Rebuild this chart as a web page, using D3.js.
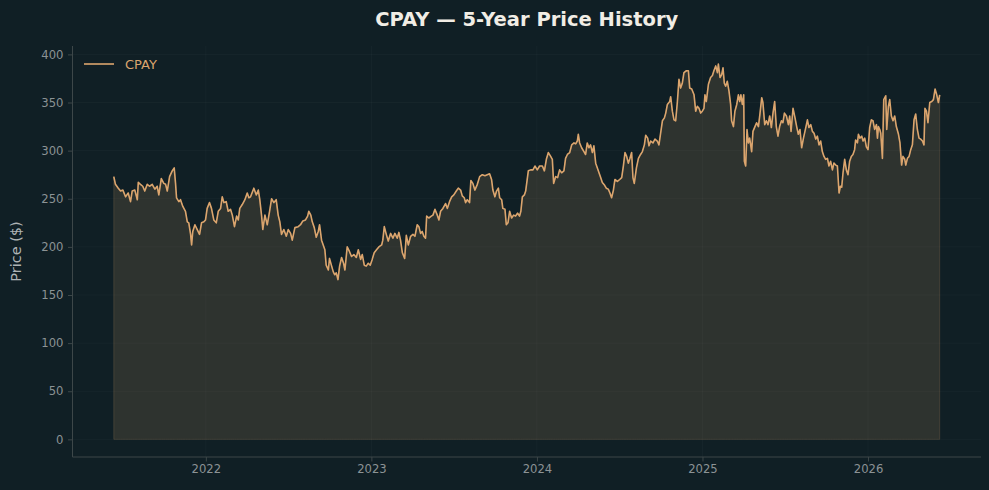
<!DOCTYPE html>
<html>
<head>
<meta charset="utf-8">
<script src="https://cdn.jsdelivr.net/npm/d3@7"></script>
<style>
  html, body { margin: 0; padding: 0; background: #101f25; }
  svg { display: block; }
</style>
</head>
<body>
<div id="chart"></div>
<script>
const title = "CPAY \u2014 5-Year Price History";
const seriesName = "CPAY";
const yLabel = "Price ($)";
const yTicks = [0, 50, 100, 150, 200, 250, 300, 350, 400];
const xTicks = [2022, 2023, 2024, 2025, 2026];

// time in decimal years
const years = [
2021.444,2021.454,2021.471,2021.485,2021.499,2021.515,2021.531,2021.545,2021.555,2021.571,
2021.586,2021.592,2021.605,2021.619,2021.631,2021.646,2021.660,2021.676,2021.692,2021.706,
2021.716,2021.731,2021.746,2021.757,2021.767,2021.781,2021.797,2021.809,2021.817,2021.823,
2021.837,2021.847,2021.861,2021.877,2021.888,2021.897,2021.908,2021.914,2021.921,2021.934,
2021.948,2021.962,2021.974,2021.988,2021.998,2022.008,2022.022,2022.034,2022.048,2022.063,
2022.075,2022.089,2022.099,2022.109,2022.123,2022.135,2022.149,2022.160,2022.173,2022.186,
2022.196,2022.205,2022.220,2022.236,2022.250,2022.260,2022.270,2022.290,2022.305,2022.317,
2022.326,2022.337,2022.344,2022.357,2022.371,2022.385,2022.397,2022.411,2022.425,2022.437,
2022.447,2022.457,2022.471,2022.486,2022.498,2022.512,2022.522,2022.538,2022.558,2022.572,
2022.586,2022.602,2022.615,2022.622,2022.634,2022.643,2022.655,2022.667,2022.679,2022.687,
2022.699,2022.709,2022.719,2022.727,2022.740,2022.747,2022.760,2022.770,2022.779,2022.788,
2022.798,2022.808,2022.820,2022.832,2022.840,2022.854,2022.868,2022.880,2022.894,2022.909,
2022.921,2022.935,2022.945,2022.957,2022.969,2022.981,2022.993,2023.005,2023.017,2023.031,
2023.045,2023.062,2023.069,2023.078,2023.090,2023.102,2023.116,2023.130,2023.142,2023.156,
2023.166,2023.176,2023.187,2023.201,2023.211,2023.223,2023.237,2023.251,2023.263,2023.277,
2023.287,2023.297,2023.307,2023.317,2023.327,2023.334,2023.347,2023.362,2023.372,2023.384,
2023.398,2023.408,2023.418,2023.432,2023.448,2023.459,2023.472,2023.485,2023.498,2023.513,
2023.525,2023.539,2023.549,2023.561,2023.569,2023.579,2023.593,2023.601,2023.613,2023.625,
2023.640,2023.654,2023.670,2023.686,2023.700,2023.714,2023.726,2023.734,2023.746,2023.756,
2023.767,2023.775,2023.787,2023.794,2023.807,2023.815,2023.825,2023.835,2023.847,2023.859,
2023.871,2023.883,2023.895,2023.903,2023.912,2023.924,2023.932,2023.948,2023.962,2023.976,
2023.988,2024.002,2024.016,2024.033,2024.045,2024.057,2024.069,2024.083,2024.093,2024.101,
2024.113,2024.125,2024.137,2024.149,2024.163,2024.173,2024.184,2024.198,2024.210,2024.224,
2024.234,2024.244,2024.250,2024.258,2024.270,2024.284,2024.294,2024.304,2024.314,2024.324,
2024.335,2024.344,2024.355,2024.365,2024.375,2024.385,2024.395,2024.409,2024.419,2024.431,
2024.441,2024.451,2024.462,2024.471,2024.486,2024.500,2024.512,2024.522,2024.532,2024.542,
2024.552,2024.562,2024.572,2024.580,2024.588,2024.601,2024.613,2024.626,2024.637,2024.649,
2024.657,2024.669,2024.677,2024.687,2024.701,2024.713,2024.727,2024.737,2024.747,2024.758,
2024.770,2024.778,2024.788,2024.802,2024.808,2024.818,2024.828,2024.838,2024.848,2024.858,
2024.868,2024.878,2024.888,2024.903,2024.915,2024.923,2024.935,2024.949,2024.959,2024.969,
2024.979,2024.989,2024.999,2025.009,2025.015,2025.023,2025.036,2025.049,2025.060,2025.069,
2025.080,2025.090,2025.096,2025.106,2025.116,2025.124,2025.132,2025.140,2025.150,2025.160,
2025.170,2025.176,2025.187,2025.196,2025.207,2025.217,2025.225,2025.232,2025.241,2025.249,
2025.253,2025.261,2025.269,2025.277,2025.285,2025.297,2025.305,2025.317,2025.327,2025.338,
2025.347,2025.358,2025.365,2025.376,2025.386,2025.396,2025.406,2025.416,2025.426,2025.436,
2025.446,2025.456,2025.466,2025.477,2025.486,2025.495,2025.507,2025.519,2025.527,2025.535,
2025.547,2025.559,2025.569,2025.579,2025.589,2025.599,2025.610,2025.619,2025.634,2025.643,
2025.654,2025.664,2025.674,2025.684,2025.694,2025.704,2025.714,2025.724,2025.734,2025.744,
2025.755,2025.764,2025.774,2025.785,2025.794,2025.805,2025.815,2025.825,2025.833,2025.841,
2025.849,2025.859,2025.869,2025.879,2025.889,2025.899,2025.909,2025.919,2025.925,2025.936,
2025.942,2025.951,2025.962,2025.970,2025.980,2025.990,2026.000,2026.010,2026.020,2026.030,
2026.040,2026.051,2026.057,2026.063,2026.071,2026.077,2026.087,2026.095,2026.107,2026.113,
2026.123,2026.131,2026.141,2026.151,2026.161,2026.171,2026.184,2026.193,2026.203,2026.211,
2026.222,2026.228,2026.238,2026.248,2026.258,2026.268,2026.278,2026.288,2026.298,2026.308,
2026.318,2026.329,2026.338,2026.344,2026.353,2026.362,2026.373,2026.385,2026.395,2026.405,
2026.415,2026.425,2026.433
];

const prices = [
273,265,261,258,259,252,256,247,258,259,
249,267,265,263,258,265,263,265,260,263,
254,271,266,265,258,273,279,282,266,251,
247,249,242,237,226,225,213,202,216,223,
218,213,225,226,228,240,246,240,228,225,
237,240,252,246,247,237,239,233,221,232,
228,240,244,249,256,251,252,261,254,259,
249,232,218,233,223,237,250,246,249,233,
226,213,218,211,218,214,207,220,221,223,
227,228,232,237,233,226,220,210,216,223,
207,202,197,181,176,188,180,174,171,173,
166,180,189,183,176,200,195,190,192,189,
197,187,192,181,180,183,181,187,194,197,
200,202,207,221,213,206,214,209,214,209,
215,207,194,188,212,202,211,213,211,223,
221,214,216,211,209,232,230,232,233,239,
233,228,237,240,245,240,247,252,254,258,
261,259,253,251,246,249,246,269,266,259,
265,273,275,274,275,276,270,259,252,258,
261,251,249,240,239,223,225,237,230,233,
232,235,232,237,252,254,258,279,280,280,
284,280,284,284,279,291,298,294,291,266,
273,272,280,277,279,292,296,298,306,308,
307,310,317,308,303,299,296,308,303,306,
298,305,287,282,277,272,267,264,261,260,
256,251,259,270,268,270,272,284,298,294,
287,292,298,272,266,282,292,296,299,306,
316,313,305,310,308,312,310,306,318,331,
334,339,348,351,356,341,332,331,350,374,
365,370,381,383,383,365,364,358,341,346,
344,339,341,344,358,351,369,376,378,383,
388,381,390,376,379,386,370,367,372,362,
348,331,325,341,348,358,351,358,348,358,
289,284,322,308,313,299,320,325,329,325,
338,355,350,327,331,327,336,324,339,351,
325,315,325,331,329,339,336,327,336,320,
344,334,325,317,322,303,313,320,332,324,
327,320,318,312,315,306,310,299,294,291,
292,284,289,280,287,285,284,256,263,262,
277,291,280,275,289,294,296,301,311,308,
317,313,315,310,313,304,301,324,332,331,
322,327,313,325,322,318,292,353,357,322,
346,353,336,331,336,325,317,308,285,294,
291,285,292,294,301,306,332,338,322,313,
312,310,306,344,341,329,350,351,353,364,
358,350,358
];

const data = years.map((t, i) => ({ t, v: prices[i] }));

const W = 989, H = 490;
const m = { left: 72.5, right: 8, top: 46, bottom: 33 };
const iw = W - m.left - m.right, ih = H - m.top - m.bottom;

const lineColor = "#dba56e";
const bg = "#101f25";

const svg = d3.select("#chart").append("svg")
  .attr("width", W).attr("height", H)
  .style("background", bg)
  .style("font-family", "'DejaVu Sans', sans-serif");

const tExt = d3.extent(years);
const tPad = (tExt[1] - tExt[0]) * 0.05;
const vMax = d3.max(prices);
const x = d3.scaleLinear().domain([tExt[0] - tPad, tExt[1] + tPad]).range([0, iw]);
const y = d3.scaleLinear().domain([-vMax * 0.047, vMax * 1.048]).range([ih, 0]);

const g = svg.append("g").attr("transform", `translate(${m.left},${m.top})`);

// grid
g.append("g").selectAll("line").data(yTicks).join("line")
  .attr("x1", 0).attr("x2", iw)
  .attr("y1", d => y(d)).attr("y2", d => y(d))
  .attr("stroke", "#ffffff").attr("stroke-opacity", 0.035).attr("stroke-width", 0.8);
g.append("g").selectAll("line").data(xTicks).join("line")
  .attr("y1", 0).attr("y2", ih)
  .attr("x1", d => x(d)).attr("x2", d => x(d))
  .attr("stroke", "#ffffff").attr("stroke-opacity", 0.035).attr("stroke-width", 0.8);

// area
const area = d3.area().x(d => x(d.t)).y0(y(0)).y1(d => y(d.v));
g.append("path").datum(data)
  .attr("d", area)
  .attr("fill", lineColor).attr("fill-opacity", 0.15)
  .attr("stroke", lineColor).attr("stroke-opacity", 0.18).attr("stroke-width", 1);

// line
const line = d3.line().x(d => x(d.t)).y(d => y(d.v));
g.append("path").datum(data)
  .attr("d", line)
  .attr("fill", "none")
  .attr("stroke", lineColor).attr("stroke-width", 1.6)
  .attr("stroke-linejoin", "round");

// axes
const axisColor = "#3d4749";
const tickTextColor = "#8c9395";
const yAxis = g.append("g").call(d3.axisLeft(y).tickValues(yTicks).tickSize(4.5).tickPadding(4.5));
const xAxis = g.append("g").attr("transform", `translate(0,${ih})`)
  .call(d3.axisBottom(x).tickValues(xTicks).tickFormat(d3.format("d")).tickSize(4.5).tickPadding(3.5));
[yAxis, xAxis].forEach(a => {
  a.select(".domain").attr("stroke", axisColor).attr("stroke-width", 1);
  a.selectAll(".tick line").attr("stroke", axisColor);
  a.selectAll(".tick text").attr("fill", tickTextColor).style("font-size", "11.6px")
    .style("font-family", "'DejaVu Sans', sans-serif");
});
yAxis.select(".domain").attr("d", `M0,0V${ih}`);
xAxis.select(".domain").attr("d", `M0,0H${iw}`);

// y label
svg.append("text")
  .attr("transform", `translate(21,${m.top + ih / 2}) rotate(-90)`)
  .attr("text-anchor", "middle")
  .attr("fill", "#aeb4b5")
  .style("font-size", "14.5px")
  .text(yLabel);

// title
svg.append("text")
  .attr("x", m.left + iw / 2).attr("y", 25.5)
  .attr("text-anchor", "middle")
  .attr("fill", "#f1ede5")
  .style("font-size", "19.5px").style("font-weight", "bold")
  .text(title);

// legend
const lg = g.append("g").attr("transform", "translate(11.5,18)");
lg.append("line").attr("x1", 0).attr("x2", 30).attr("y1", 0).attr("y2", 0)
  .attr("stroke", lineColor).attr("stroke-width", 1.6);
lg.append("text").attr("x", 41).attr("y", 0).attr("dy", "0.35em")
  .attr("fill", lineColor).style("font-size", "13px").text(seriesName);
</script>
</body>
</html>
